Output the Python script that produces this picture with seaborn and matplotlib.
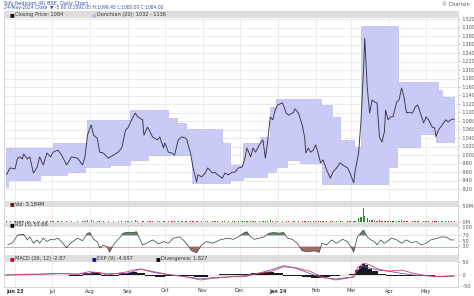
import numpy as np
import pandas as pd
import matplotlib
matplotlib.use("Agg")
import matplotlib.pyplot as plt
import matplotlib.transforms as mtransforms
import seaborn as sns

sns.set_theme(style="white")
plt.rcParams["font.family"] = ["DejaVu Sans"]

# ---------------- data (x = days since 1 Jun 2023) ----------------
close_days = [-7, -4, 0, 2, 4, 6, 7, 10, 12, 15, 18, 20, 23, 26, 29,
              31, 35, 38, 42, 46, 51, 55, 57, 59,
              62, 64, 67, 69, 72, 76, 80, 84, 87, 90,
              92, 95, 98, 100, 104, 105, 108, 110, 112, 116, 118, 121,
              122, 125, 128, 130, 133, 136, 139, 140, 143, 145, 148, 149, 152,
              155, 157, 161, 163, 165, 169, 171, 174, 177, 179, 182,
              185, 187, 189, 192, 194, 196, 199, 202, 204, 206, 208, 210, 212,
              214, 218, 221, 223, 227, 228, 231, 234, 236, 237, 239, 241, 243,
              245, 247, 249, 251, 254, 257, 259, 262, 265, 267, 271, 273,
              276, 277, 280, 282, 284, 285, 287, 289, 291, 293, 295, 297, 299, 301, 302, 304,
              306, 308, 311, 313, 315, 317, 319, 320, 324, 326, 328, 329, 333,
              335, 337, 340, 342, 343, 345, 348, 351, 353, 356, 358]
close = [954, 970, 968, 993, 996, 991, 1003, 991, 996, 958, 972, 996, 977, 1005, 996,
         1007, 1012, 1000, 977, 996, 993, 977, 996, 1047,
         1071, 1047, 1040, 1007, 1005, 993, 1000, 1007, 1017, 1059,
         1064, 1083, 1099, 1090, 1083, 1047, 1066, 1055, 1043, 1036, 1043, 1017,
         1029, 1007, 1005, 1000, 1036, 1043, 1040, 1036, 1005, 972, 937, 954, 949,
         958, 970, 958, 960, 954, 946, 958, 954, 960, 960, 970,
         972, 989, 1017, 996, 1017, 1007, 1024, 1036, 993, 1036, 1090, 1083, 1106,
         1118, 1123, 1099, 1094, 1101, 1109, 1099, 1071, 1043, 1005, 1017, 1007, 1012,
         1024, 1005, 982, 989, 965, 946, 960, 970, 982, 977, 970, 958,
         935, 960, 1005, 1083, 1200, 1275, 1160, 1099, 1130, 1125, 1123, 1043, 1031, 1055, 1106, 1083,
         1090, 1090, 1125, 1130, 1158, 1137, 1099, 1101, 1099, 1113, 1118, 1111, 1076,
         1090, 1083, 1066, 1064, 1043, 1059, 1071, 1083, 1078, 1085, 1084]
volume_m = [4, 3, 2, 3, 2, 3, 4, 2, 2, 3, 2, 3, 2, 3, 2,
            3, 4, 2, 3, 2, 2, 3, 2, 6,
            8, 4, 3, 3, 2, 2, 3, 2, 3, 5,
            4, 5, 6, 3, 3, 4, 3, 2, 2, 3, 2, 3,
            2, 3, 2, 2, 3, 3, 2, 2, 3, 4, 5, 3, 2,
            2, 3, 2, 2, 2, 3, 2, 2, 2, 2, 3,
            2, 3, 5, 3, 4, 2, 3, 3, 3, 4, 7, 4, 5,
            4, 5, 3, 3, 2, 3, 2, 3, 4, 4, 3, 2, 2,
            2, 3, 3, 2, 3, 3, 2, 2, 2, 2, 2, 3,
            4, 5, 12, 18, 47, 20, 12, 8, 6, 4, 3, 6, 4, 3, 5, 3,
            3, 2, 4, 3, 6, 4, 3, 2, 2, 3, 3, 2, 5,
            3, 2, 3, 2, 4, 3, 2, 3, 2, 2, 3]

upper_days = [-7, 31, 59, 94, 125, 132, 139, 169, 175, 186, 200, 208, 213,
              249, 258, 265, 276, 282, 312, 345, 348]
upper_vals = [1017, 1029, 1083, 1106, 1087, 1076, 1061, 1029, 977, 1029, 1043, 1113, 1132,
              1118, 1090, 1036, 1019, 1304, 1172, 1153, 1137]
lower_days = [-7, -6, 20, 42, 57, 77, 94, 108, 144, 175, 186, 205, 213,
              222, 232, 250, 304, 311, 330, 343]
lower_vals = [925, 942, 954, 960, 972, 977, 989, 1000, 935, 942, 949, 960, 972,
              989, 982, 932, 972, 1019, 1050, 1031]
last_day = 358

rsi_days = [-6, -2, 2, 7, 10, 12, 15, 18, 20, 23, 26, 29, 31, 35, 39, 42, 45, 47,
            51, 55, 59, 61, 64, 67, 69, 72, 75, 77, 81, 86, 88, 92, 96, 99, 102,
            104, 108, 112, 117, 121, 125, 129, 134, 137, 140, 144, 148, 152, 156,
            161, 167, 173, 178, 182, 187, 189, 192, 195, 199, 203, 207, 211, 215,
            219, 222, 226, 230, 234, 238, 244, 248, 250, 254, 258, 262, 267, 271,
            275, 276, 279, 282, 284, 287, 290, 293, 295, 298, 301, 303, 307, 311,
            315, 319, 323, 327, 331, 335, 339, 344, 348, 352, 355, 358]
rsi = [36, 44, 71, 74, 54, 65, 42, 54, 42, 60, 48, 56, 54, 60, 42, 25, 42, 48,
       60, 51, 77, 80, 56, 48, 25, 35, 30, 10, 42, 65, 78, 81, 80, 83, 54,
       36, 44, 54, 40, 48, 42, 60, 65, 54, 39, 15, 8, 36, 48,
       42, 54, 60, 56, 65, 80, 83, 65, 56, 60, 65, 78, 80, 78,
       80, 60, 56, 42, 15, 12, 15, 10, 42, 36, 54, 42, 56, 48,
       20, 10, 65, 80, 89, 65, 54, 48, 36, 54, 42, 48, 60, 54,
       42, 54, 44, 48, 36, 42, 54, 60, 65, 63, 54, 53.66]

macd_days = [-8, 4, 20, 37, 51, 60, 67, 75, 91, 96, 102, 113, 124, 134, 145,
             151, 161, 177, 187, 198, 208, 219, 229, 240, 250, 261, 270, 276,
             279, 284, 288, 296, 304, 315, 325, 336, 346, 352, 358]
macd = [0, 2.6, 3.8, 6.4, 2.6, 12.8, 10, 0, 12, 19, 23, 13, 2.6, -2.6, -12.8,
        -19, -12.8, -6.4, -2.6, 6.4, 12.8, 32, 28, 15, -6.4, -19, -13, -6.4,
        28, 45, 41, 23, 15, 19, 6.4, -2.6, -6.4, -4, -2.87]
signal = [0, 1, 2.6, 5, 3.8, 5, 10, 5, 6.4, 12.8, 23, 10, 2, -4, -10,
          -15, -10, -6.4, -6.4, 6.4, 19, 36, 26, 6.4, -10, -15, -10, -8,
          19, 36, 28, 19, 15, 6.4, 0, -3, -6.4, -5.5, -4.697]
div_days = [-8, 4, 20, 37, 51, 60, 63, 67, 73, 79, 91, 96, 102, 110, 118, 126, 134,
            143, 148, 153, 161, 171, 179, 187, 198, 208, 214, 222, 230, 237, 245,
            253, 261, 269, 275, 279, 281, 284, 286, 289, 293, 298, 306, 314, 322,
            330, 338, 346, 353, 358]
divergence = [0, 1, -1, 2, -2, 8, 10, 6, -3, -4, 8, 12, 8, -4, -6, -3, -4,
              -3, -8, -6, 2, 3, 4, 3, 6, 10, 8, -2, -5, -8, -10,
              -8, -4, 2, 4, 20, 35, 42, 38, 25, 15, 5, -3, -2, -4,
              -3, -2, 1, 2, 1.827]

month_days = [0, 30, 61, 92, 122, 153, 183, 214, 245, 274, 305, 335]
month_labels = ["Jun 23", "Jul", "Aug", "Sep", "Oct", "Nov", "Dec",
                "Jan 24", "Feb", "Mar", "Apr", "May"]
price_ticks = list(range(920, 1340, 20))

# ---------------- layout ----------------
W, H = 474, 296
fig = plt.figure(figsize=(W / 100, H / 100), dpi=100)
fig.patch.set_facecolor("white")


def ax_px(x0, y0, x1, y1):
    return fig.add_axes([x0 / W, 1 - y1 / H, (x1 - x0) / W, (y1 - y0) / H])


XL = (-9, 361)
GRID = "#e4e4e4"
TXT = "#333333"
FS = 3.6

ax_p = ax_px(4, 11, 458, 201)
ax_v = ax_px(4, 201, 458, 222)
ax_r = ax_px(4, 222, 458, 255)
ax_m = ax_px(4, 255, 458, 287)

for ax in (ax_p, ax_v, ax_r, ax_m):
    ax.set_facecolor("white")
    ax.set_xlim(*XL)
    ax.set_xticks([])
    ax.set_yticks([])
    for s in ax.spines.values():
        s.set_color("#c8c8c8")
        s.set_linewidth(0.5)
    for d in month_days:
        ax.axvline(d, color=GRID, lw=0.5, zorder=0)


def strip(ax, frac, items):
    ax.add_patch(plt.Rectangle((0, 1 - frac), 1, frac, transform=ax.transAxes,
                               facecolor="#dedede", edgecolor="none", zorder=5))
    x = 0.012
    for sq_col, label in items:
        ax.text(x, 1 - frac / 2, "\u25A0", color=sq_col, fontsize=FS, transform=ax.transAxes,
                va="center", ha="left", zorder=6)
        ax.text(x + 0.012, 1 - frac / 2, label, color=TXT, fontsize=FS, transform=ax.transAxes,
                va="center", ha="left", zorder=6)
        x += 0.012 + len(label) * 0.0078 + 0.02


def rlabels(ax, vals, texts, color="#555555"):
    tr = mtransforms.blended_transform_factory(ax.transAxes, ax.transData)
    for v, t in zip(vals, texts):
        ax.text(1.002, v, "- " + t, transform=tr, fontsize=FS, color=color,
                va="center", ha="left", clip_on=False)


# ---------------- price panel ----------------
pmin, pmax = 1364.7 - 2.35 * 201, 1364.7 - 2.35 * 11
ax_p.set_ylim(pmin, pmax)
for v in price_ticks:
    ax_p.axhline(v, color=GRID, lw=0.5, zorder=0)

grid = np.array(sorted(set(upper_days + lower_days + [last_day])))
ui = np.searchsorted(upper_days, grid, side="right") - 1
li = np.searchsorted(lower_days, grid, side="right") - 1
band_up = np.array(upper_vals)[ui]
band_lo = np.array(lower_vals)[li]
ax_p.fill_between(grid, band_lo, band_up, step="post", facecolor="#cacaf6",
                  edgecolor="#b0b0ea", lw=0.4, zorder=1)

dfp = pd.DataFrame({"day": close_days, "close": close})
sns.lineplot(data=dfp, x="day", y="close", ax=ax_p, color="#35354a", lw=0.65, zorder=3)
ax_p.set_xlabel("")
ax_p.set_ylabel("")
ax_p.set_xlim(*XL)
rlabels(ax_p, price_ticks, [str(v) for v in price_ticks])
strip(ax_p, 7 / 190, [("#111111", "Closing Price: 1084"), ("#b9b9ee", "Donchian (20): 1032 - 1136")])

# ---------------- volume panel ----------------
ax_v.set_ylim(0, 70)
dirs = np.sign(np.diff([close[0]] + close))
vcols = ["#2f8f2f" if d > 0 else ("#c03030" if d < 0 else "#222222") for d in dirs]
ax_v.bar(close_days, volume_m, width=1.0, color=vcols, linewidth=0, zorder=2)
rlabels(ax_v, [50, 0], ["50M", "0M"])
strip(ax_v, 6 / 21, [("#6b1a1a", "Vol: 3.184M")])

# ---------------- RSI panel ----------------
ax_r.set_ylim(0, 117.9)
ax_r.axhline(30, color="#d08080", lw=0.5, zorder=1)
ax_r.axhline(70, color="#d8d8d8", lw=0.5, zorder=1)
rd = np.array(rsi_days, dtype=float)
rv = np.array(rsi, dtype=float)
ax_r.fill_between(rd, 70, rv, where=rv > 70, interpolate=True, color="#4e7a56", alpha=0.9, lw=0, zorder=2)
ax_r.fill_between(rd, 30, rv, where=rv < 30, interpolate=True, color="#9a5a5a", alpha=0.9, lw=0, zorder=2)
dfr = pd.DataFrame({"day": rsi_days, "rsi": rsi})
sns.lineplot(data=dfr, x="day", y="rsi", ax=ax_r, color="#3a3a3a", lw=0.5, zorder=3)
ax_r.set_xlabel("")
ax_r.set_ylabel("")
ax_r.set_xlim(*XL)
rlabels(ax_r, [100, 70, 50, 30], ["100", "70", "50", "30"])
strip(ax_r, 5 / 33, [("#111111", "RSI (5) 53.66")])

# ---------------- MACD panel ----------------
ax_m.set_ylim(-46, 77)
ax_m.axhline(0, color="#d8d8d8", lw=0.5, zorder=1)
ax_m.fill_between(div_days, 0, divergence, step="mid", color="#1a1a1a", lw=0, zorder=2)
dfm = pd.DataFrame({"day": macd_days, "macd": macd, "signal": signal})
sns.lineplot(data=dfm, x="day", y="signal", ax=ax_m, color="#5b5bd6", lw=0.6, zorder=3)
sns.lineplot(data=dfm, x="day", y="macd", ax=ax_m, color="#d84050", lw=0.6, zorder=4)
ax_m.set_xlabel("")
ax_m.set_ylabel("")
ax_m.set_xlim(*XL)
rlabels(ax_m, [50, 0, -46], ["50", "0", "-50"])
strip(ax_m, 7 / 32, [("#c01010", "MACD (26, 12) -2.87"), ("#1010a0", "EXP (9) -4.697"),
                     ("#111111", "Divergence: 1.827")])

# ---------------- x labels ----------------
trx = mtransforms.blended_transform_factory(ax_m.transData, fig.transFigure)
for d, lab in zip(month_days, month_labels):
    ax_m.text(d, 1 - 291 / H, lab, transform=trx, fontsize=FS, color=TXT, ha="center", va="center",
              fontweight="bold" if " " in lab else "normal", clip_on=False)

# ---------------- title ----------------
fig.text(4 / W, 1 - 3 / H, "Sify Redicom (R) BSE  Daily Chart", fontsize=FS, color="#3050a0",
         ha="left", va="center")
fig.text(4 / W, 1 - 8 / H, "24-May-2024 Close  \u25BC -5.60 O:1092.05 H:1099.45 L:1080.00 C:1084.00",
         fontsize=FS * 0.9, color="#3050a0", ha="left", va="center")
fig.text(470 / W, 1 - 4 / H, "\u00A9 ChartsIn", fontsize=FS, color="#555555", ha="right", va="center")

fig.savefig("out.png", dpi=100, facecolor="white")
